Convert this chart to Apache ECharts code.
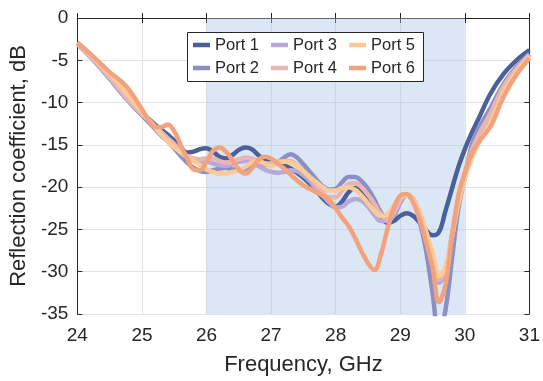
<!DOCTYPE html>
<html>
<head>
<meta charset="utf-8">
<script src="https://cdn.jsdelivr.net/npm/echarts@6/dist/echarts.min.js"></script>
<style>html,body{margin:0;padding:0;background:#fff}#c{width:543px;height:381px}</style>
</head>
<body>
<div id="c"></div>
<script>
var freq = [24, 24.25, 24.5, 24.75, 25.0, 25.1, 25.2, 25.3, 25.4, 25.5, 25.6, 25.7, 25.8, 25.9,
  26.0, 26.1, 26.2, 26.3, 26.4, 26.5, 26.6, 26.7, 26.8, 26.9, 27.0, 27.1, 27.2, 27.3, 27.4, 27.5,
  27.6, 27.7, 27.8, 27.9, 28.0, 28.1, 28.2, 28.3, 28.4, 28.5, 28.6, 28.7, 28.8, 28.9, 29.0, 29.1,
  29.2, 29.3, 29.4, 29.5, 29.6, 29.7, 29.8, 29.9, 30.0, 30.1, 30.2, 30.4, 30.6, 30.8, 31.0];

var port1 = [-3.0, -4.9, -7.0, -9.3, -11.3, -11.9, -12.6, -13.2, -13.8, -14.5, -15.3, -15.9, -15.8, -15.5,
  -15.4, -15.8, -16.4, -16.6, -16.2, -15.6, -15.3, -15.5, -16.2, -16.8, -17.1, -17.2, -17.4, -17.8, -18.3, -18.9,
  -19.6, -20.4, -21.3, -22.0, -22.3, -21.7, -20.6, -20.1, -20.6, -21.5, -22.6, -23.6, -24.2, -24.0, -23.4, -23.1,
  -23.4, -24.2, -25.1, -25.7, -25.3, -22.8, -20.2, -17.6, -15.5, -13.7, -12.1, -8.9, -6.6, -5.0, -3.8];

var port2 = [-3.1, -5.0, -7.2, -9.5, -11.5, -12.3, -13.1, -13.9, -14.6, -15.4, -16.3, -17.1, -17.7, -18.1,
  -18.2, -18.0, -17.8, -17.7, -17.9, -18.0, -17.8, -17.4, -17.2, -17.3, -17.4, -17.1, -16.5, -16.1, -16.5, -17.3,
  -18.2, -19.1, -19.9, -20.3, -20.2, -19.4, -18.8, -18.8, -19.3, -20.2, -21.5, -23.0, -23.9, -23.4, -21.8, -21.0,
  -21.6, -24.0, -27.5, -32.5, -37.5, -34.5, -28.5, -22.5, -18.8, -15.2, -13.3, -10.6, -7.8, -5.8, -4.2];

var port3 = [-3.0, -5.0, -7.1, -9.4, -11.4, -12.1, -12.9, -13.7, -14.4, -15.1, -15.9, -16.5, -16.9, -17.0,
  -17.0, -17.2, -17.4, -17.5, -17.3, -17.0, -16.9, -17.1, -17.5, -17.9, -18.2, -18.3, -18.2, -18.0, -18.1, -18.6,
  -19.3, -20.2, -21.0, -21.8, -22.4, -22.3, -21.7, -21.4, -21.6, -22.3, -23.3, -24.0, -24.0, -23.2, -21.8, -21.0,
  -21.4, -23.0, -25.5, -28.5, -31.3, -30.0, -25.8, -21.5, -18.5, -16.0, -14.2, -11.4, -8.3, -6.1, -4.4];

var port4 = [-3.0, -4.9, -7.0, -9.3, -11.3, -12.0, -12.8, -13.5, -14.2, -14.9, -15.7, -16.3, -16.6, -16.7,
  -16.6, -16.6, -16.9, -17.1, -17.0, -16.7, -16.5, -16.6, -16.9, -17.2, -17.2, -17.0, -16.9, -16.9, -17.4, -18.1,
  -18.9, -19.8, -20.6, -21.2, -21.2, -20.4, -19.6, -19.5, -20.0, -20.9, -22.0, -23.2, -23.8, -23.0, -21.5, -20.9,
  -21.4, -23.0, -25.5, -28.3, -30.9, -29.6, -25.5, -21.3, -18.3, -15.8, -14.0, -11.2, -8.1, -6.0, -4.4];

var port5 = [-2.9, -4.7, -6.6, -8.8, -11.1, -12.0, -12.9, -13.8, -14.6, -15.3, -15.9, -16.4, -16.9, -17.4,
  -17.9, -18.2, -18.4, -18.4, -18.2, -18.0, -17.6, -17.1, -16.9, -17.2, -17.5, -17.2, -17.0, -17.1, -17.5, -18.1,
  -18.8, -19.4, -20.0, -20.4, -20.4, -20.1, -20.0, -20.3, -21.0, -21.9, -22.8, -23.4, -23.2, -22.2, -21.2, -21.0,
  -21.5, -22.9, -25.2, -27.8, -30.5, -29.5, -26.0, -22.0, -19.0, -16.7, -15.0, -12.3, -8.8, -6.4, -4.6];

var port6 = [-2.9, -4.6, -6.4, -8.0, -10.8, -12.0, -12.9, -12.9, -12.6, -13.4, -15.0, -16.6, -17.9, -18.0,
  -17.0, -15.7, -15.3, -15.8, -16.8, -17.9, -18.4, -17.8, -16.8, -16.4, -16.6, -17.2, -17.8, -18.5, -19.2, -19.8,
  -20.2, -20.6, -21.0, -21.5, -22.5, -23.6, -24.6, -26.0, -27.6, -29.0, -29.8, -28.0, -25.0, -22.5, -21.0, -20.8,
  -21.8, -23.8, -26.5, -29.5, -33.6, -31.5, -26.0, -21.0, -18.3, -16.2, -14.8, -12.8, -9.3, -6.7, -4.8];

var seriesNames = ['Port 1', 'Port 2', 'Port 3', 'Port 4', 'Port 5', 'Port 6'];
var seriesValues = [port1, port2, port3, port4, port5, port6];
var seriesColors = ['#4b5f9b', '#8a8fc6', '#b7a9d6', '#e8b5b7', '#fdca95', '#f2a27d'];
var xTicks = [24, 31, 1];
var yTicks = [-35, 0, 5];
var bandRange = [26, 30];

var FONT = '"Liberation Sans", Arial, sans-serif';
var TXT = '#262626';

function pairs(vals) {
  return freq.map(function (f, i) { return [f, vals[i]]; });
}

var series = seriesNames.map(function (name, k) {
  var s = {
    name: name,
    type: 'line',
    data: pairs(seriesValues[k]),
    smooth: 0.4,
    showSymbol: false,
    symbol: 'none',
    clip: true,
    lineStyle: { width: 4.5, color: seriesColors[k] },
    itemStyle: { color: seriesColors[k] },
    z: 3 + k
  };
  if (k === 0) {
    s.markArea = {
      silent: true,
      itemStyle: { color: 'rgba(170,198,230,0.42)' },
      data: [[{ xAxis: bandRange[0] }, { xAxis: bandRange[1] }]]
    };
  }
  return s;
});

function legendCol(names, left) {
  return {
    orient: 'vertical',
    left: left,
    top: 36,
    data: names,
    icon: 'rect',
    itemWidth: 17,
    itemHeight: 4.5,
    itemGap: 5,
    z: 20,
    textStyle: { fontFamily: FONT, fontSize: 16.5, color: TXT, lineHeight: 18, padding: [0, 0, 0, 0] },
    padding: 0,
    selectedMode: false
  };
}

var option = {
  animation: false,
  backgroundColor: '#fff',
  grid: { left: 77, right: 11, top: 18, bottom: 65 },
  xAxis: [{
    type: 'value', min: xTicks[0], max: xTicks[1], interval: xTicks[2],
    name: 'Frequency, GHz', nameLocation: 'middle', nameGap: 40,
    nameTextStyle: { fontFamily: FONT, fontSize: 22, color: TXT },
    axisLine: { show: true, lineStyle: { color: TXT, width: 1 } },
    axisTick: { show: true, inside: true, length: 5, lineStyle: { color: TXT } },
    axisLabel: { fontFamily: FONT, fontSize: 19, color: TXT, margin: 12 },
    splitLine: { show: true, lineStyle: { color: '#e2e2e2', width: 1 } }
  }, {
    type: 'value', position: 'top', min: xTicks[0], max: xTicks[1], interval: xTicks[2],
    axisLine: { show: true, lineStyle: { color: TXT, width: 1 } },
    axisTick: { show: true, inside: true, length: 5, lineStyle: { color: TXT } },
    axisLabel: { show: false }, splitLine: { show: false }
  }],
  yAxis: [{
    type: 'value', min: yTicks[0], max: yTicks[1], interval: yTicks[2],
    name: 'Reflection coefficient, dB', nameLocation: 'middle', nameGap: 43,
    nameTextStyle: { fontFamily: FONT, fontSize: 22, color: TXT },
    axisLine: { show: true, lineStyle: { color: TXT, width: 1 } },
    axisTick: { show: true, inside: true, length: 5, lineStyle: { color: TXT } },
    axisLabel: { fontFamily: FONT, fontSize: 19, color: TXT, margin: 9 },
    splitLine: { show: true, lineStyle: { color: '#e2e2e2', width: 1 } }
  }, {
    type: 'value', position: 'right', min: yTicks[0], max: yTicks[1], interval: yTicks[2],
    axisLine: { show: true, lineStyle: { color: TXT, width: 1 } },
    axisTick: { show: true, inside: true, length: 5, lineStyle: { color: TXT } },
    axisLabel: { show: false }, splitLine: { show: false }
  }],
  legend: [
    legendCol(['Port 1', 'Port 2'], 193),
    legendCol(['Port 3', 'Port 4'], 271),
    legendCol(['Port 5', 'Port 6'], 349)
  ],
  graphic: [{
    type: 'rect', z: 15,
    shape: { x: 187.5, y: 32.5, width: 236, height: 49 },
    style: { fill: '#fff', stroke: '#262626', lineWidth: 1 }
  }],
  series: series
};

var chart = echarts.init(document.getElementById('c'), null, { renderer: 'canvas' });
chart.setOption(option);
</script>
</body>
</html>
